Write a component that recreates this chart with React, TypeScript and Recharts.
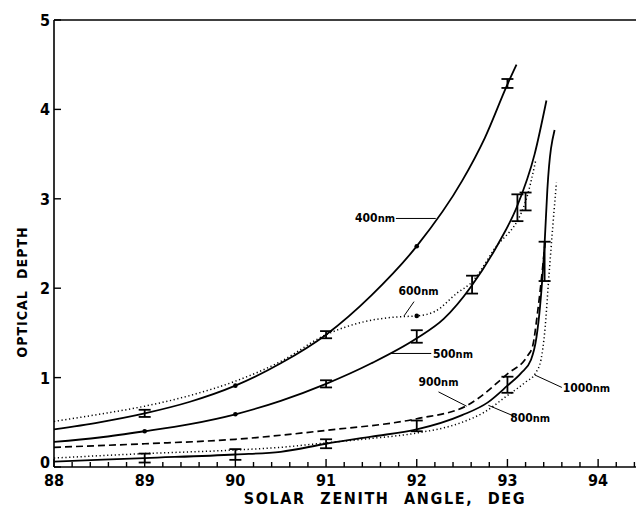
import React from "react";
import {
  ComposedChart,
  Line,
  Scatter,
  ErrorBar,
  XAxis,
  YAxis,
  ReferenceLine,
  ReferenceDot,
} from "recharts";

// ---------- data ----------
const nm400 = [
  { x: 88, y: 0.42 }, { x: 88.5, y: 0.5 }, { x: 89, y: 0.6 }, { x: 89.5, y: 0.73 },
  { x: 90, y: 0.91 }, { x: 90.5, y: 1.16 }, { x: 91, y: 1.48 }, { x: 91.5, y: 1.92 },
  { x: 92, y: 2.47 }, { x: 92.5, y: 3.2 }, { x: 92.75, y: 3.68 }, { x: 93, y: 4.28 },
  { x: 93.1, y: 4.5 },
];
const nm500 = [
  { x: 88, y: 0.28 }, { x: 88.5, y: 0.33 }, { x: 89, y: 0.4 }, { x: 89.5, y: 0.48 },
  { x: 90, y: 0.59 }, { x: 90.5, y: 0.74 }, { x: 91, y: 0.93 }, { x: 91.5, y: 1.16 },
  { x: 92, y: 1.44 }, { x: 92.3, y: 1.66 }, { x: 92.6, y: 2.02 }, { x: 92.9, y: 2.5 },
  { x: 93.1, y: 2.9 }, { x: 93.3, y: 3.5 }, { x: 93.43, y: 4.1 },
];
const nm600 = [
  { x: 88, y: 0.51 }, { x: 88.5, y: 0.59 }, { x: 89, y: 0.68 }, { x: 89.5, y: 0.8 },
  { x: 90, y: 0.96 }, { x: 90.5, y: 1.18 }, { x: 91, y: 1.48 }, { x: 91.4, y: 1.62 },
  { x: 91.8, y: 1.68 }, { x: 92, y: 1.69 }, { x: 92.2, y: 1.74 }, { x: 92.45, y: 1.95 },
  { x: 92.6, y: 2.06 }, { x: 92.85, y: 2.43 }, { x: 93.2, y: 2.97 }, { x: 93.31, y: 3.42 },
];
const nm800 = [
  { x: 88, y: 0.06 }, { x: 89, y: 0.1 }, { x: 90, y: 0.14 }, { x: 90.5, y: 0.17 },
  { x: 91, y: 0.26 }, { x: 91.5, y: 0.34 }, { x: 92, y: 0.42 }, { x: 92.5, y: 0.58 },
  { x: 92.78, y: 0.72 }, { x: 93, y: 0.91 }, { x: 93.15, y: 1.05 }, { x: 93.26, y: 1.2 },
  { x: 93.32, y: 1.45 }, { x: 93.36, y: 1.8 }, { x: 93.41, y: 2.5 }, { x: 93.44, y: 3.1 },
  { x: 93.52, y: 3.77 },
];
const nm900 = [
  { x: 88, y: 0.22 }, { x: 89, y: 0.26 }, { x: 90, y: 0.31 }, { x: 91, y: 0.41 },
  { x: 92, y: 0.54 }, { x: 92.54, y: 0.68 }, { x: 93.01, y: 1.05 }, { x: 93.22, y: 1.24 },
  { x: 93.28, y: 1.36 }, { x: 93.33, y: 1.71 }, { x: 93.42, y: 2.55 },
];
const nm1000 = [
  { x: 88, y: 0.1 }, { x: 89, y: 0.15 }, { x: 90, y: 0.19 }, { x: 90.5, y: 0.22 },
  { x: 91, y: 0.27 }, { x: 91.5, y: 0.32 }, { x: 92, y: 0.38 }, { x: 92.5, y: 0.5 },
  { x: 92.74, y: 0.61 }, { x: 93, y: 0.8 }, { x: 93.2, y: 0.95 }, { x: 93.31, y: 1.05 },
  { x: 93.37, y: 1.2 }, { x: 93.41, y: 1.5 }, { x: 93.46, y: 2.17 }, { x: 93.5, y: 2.69 },
  { x: 93.54, y: 3.18 },
];

// measured points with error bars
const errorPoints = [
  { x: 89, y: 0.6, e: 0.04 }, { x: 91, y: 1.48, e: 0.04 }, { x: 93, y: 4.29, e: 0.05 },
  { x: 91, y: 0.93, e: 0.04 }, { x: 92, y: 1.46, e: 0.07 }, { x: 93.11, y: 2.9, e: 0.15 },
  { x: 92.61, y: 2.04, e: 0.1 }, { x: 93.2, y: 2.97, e: 0.1 },
  { x: 89, y: 0.1, e: 0.05 }, { x: 90, y: 0.14, e: 0.06 }, { x: 91, y: 0.26, e: 0.05 },
  { x: 92, y: 0.46, e: 0.06 }, { x: 93, y: 0.92, e: 0.09 }, { x: 93.41, y: 2.3, e: 0.22 },
];
// measured points drawn as dots
const dotPoints = [
  { x: 90, y: 0.91 }, { x: 92, y: 2.47 }, { x: 89, y: 0.4 }, { x: 90, y: 0.59 },
  { x: 92, y: 1.69 },
];

// annotations: label positions and leader segments (data coordinates)
const labels = [
  { num: "400", x: 91.54, y: 2.78 },
  { num: "600", x: 92.02, y: 1.97 },
  { num: "500", x: 92.4, y: 1.26 },
  { num: "900", x: 92.24, y: 0.95 },
  { num: "800", x: 93.25, y: 0.55 },
  { num: "1000", x: 93.87, y: 0.88 },
];
const leaders = [
  [{ x: 91.77, y: 2.78 }, { x: 92.21, y: 2.78 }],
  [{ x: 91.97, y: 1.85 }, { x: 91.86, y: 1.69 }],
  [{ x: 91.72, y: 1.27 }, { x: 92.16, y: 1.27 }],
  [{ x: 92.24, y: 0.84 }, { x: 92.55, y: 0.68 }],
  [{ x: 92.79, y: 0.69 }, { x: 93.07, y: 0.57 }],
  [{ x: 93.3, y: 1.03 }, { x: 93.6, y: 0.89 }],
];

const X_TICKS: number[] = [];
for (let i = 0; i <= 32; i++) X_TICKS.push(Math.round((88 + i * 0.2) * 10) / 10);
const Y_TICKS = [0, 1, 2, 3, 4, 5];

const X_TITLE = "SOLAR ZENITH ANGLE, DEG";
const Y_TITLE = "OPTICAL DEPTH";

// ---------- styling ----------
const FONT = "'Liberation Sans Narrow', 'DejaVu Sans Condensed', 'Liberation Sans', sans-serif";
const W = 642;
const H = 501;
const M = { top: 11, right: 1, bottom: 41, left: 45 };

const isMajor = (v: number) => Math.abs(v - Math.round(v)) < 1e-6;

const BottomTick = (p: any) => {
  const v = p.payload.value;
  const major = isMajor(v);
  return (
    <g>
      <line x1={p.x} y1={p.y} x2={p.x} y2={p.y - (major ? 8 : 5)} stroke="#000" strokeWidth={1.4} />
      {major && (
        <text x={p.x} y={p.y + 19} textAnchor="middle" fontFamily={FONT} fontWeight="bold" fontSize={16} fill="#000">
          {v}
        </text>
      )}
    </g>
  );
};
const TopTick = (p: any) => {
  const v = p.payload.value;
  const major = isMajor(v);
  return <line x1={p.x} y1={p.y} x2={p.x} y2={p.y + (major ? 8 : 5)} stroke="#000" strokeWidth={1.4} />;
};
const LeftTick = (p: any) => {
  const v = p.payload.value;
  return (
    <g>
      <line x1={p.x} y1={p.y} x2={p.x + 7} y2={p.y} stroke="#000" strokeWidth={1.4} />
      <text x={p.x - 4} y={p.y + (v === 0 ? 1 : 6)} textAnchor="end" fontFamily={FONT} fontWeight="bold" fontSize={16} fill="#000">
        {v}
      </text>
    </g>
  );
};
const RightTick = (p: any) => (
  <line x1={p.x} y1={p.y} x2={p.x - 7} y2={p.y} stroke="#000" strokeWidth={1.4} />
);

const NoShape = () => <g />;
const DotShape = (p: any) => <circle cx={p.cx} cy={p.cy} r={2.3} fill="#000" />;

const LabelShape = (num: string) => (p: any) => (
  <text x={p.cx} y={p.cy + 4} textAnchor="middle" fontFamily={FONT} fontWeight="bold" fill="#000">
    <tspan fontSize={12}>{num}</tspan>
    <tspan fontSize={11}>nm</tspan>
  </text>
);

export default function App() {
  return (
    <div style={{ width: 636, height: 501, overflow: "hidden", position: "relative" }}>
      <ComposedChart width={W} height={H} margin={M}>
        <XAxis
          xAxisId={0}
          dataKey="x"
          type="number"
          domain={[88, 94.55]}
          ticks={X_TICKS}
          interval={0}
          height={1}
          tickSize={0}
          tickMargin={0}
          tickLine={false}
          axisLine={{ stroke: "#000", strokeWidth: 1.6 }}
          tick={<BottomTick />}
          allowDataOverflow
        />
        <XAxis
          xAxisId="top"
          orientation="top"
          type="number"
          domain={[88, 94.55]}
          ticks={X_TICKS}
          interval={0}
          height={1}
          tickSize={0}
          tickMargin={0}
          tickLine={false}
          axisLine={{ stroke: "#000", strokeWidth: 1.4 }}
          tick={<TopTick />}
          allowDataOverflow
        />
        <YAxis
          yAxisId={0}
          type="number"
          domain={[0, 5]}
          ticks={Y_TICKS}
          interval={0}
          width={1}
          tickSize={0}
          tickMargin={0}
          tickLine={false}
          axisLine={{ stroke: "#000", strokeWidth: 1.6 }}
          tick={<LeftTick />}
          allowDataOverflow
        />
        <YAxis
          yAxisId="right"
          orientation="right"
          type="number"
          domain={[0, 5]}
          ticks={Y_TICKS}
          interval={0}
          width={1}
          tickSize={0}
          tickMargin={0}
          tickLine={false}
          axisLine={{ stroke: "#000", strokeWidth: 1.4 }}
          tick={<RightTick />}
        />

        <Line data={nm600} dataKey="y" type="monotone" stroke="#000" strokeWidth={1.5} strokeDasharray="1.2 2.6" dot={false} isAnimationActive={false} />
        <Line data={nm1000} dataKey="y" type="monotone" stroke="#000" strokeWidth={1.5} strokeDasharray="1.2 2.6" dot={false} isAnimationActive={false} />
        <Line data={nm900} dataKey="y" type="monotone" stroke="#000" strokeWidth={1.7} strokeDasharray="7 4" dot={false} isAnimationActive={false} />
        <Line data={nm400} dataKey="y" type="monotone" stroke="#000" strokeWidth={1.8} dot={false} isAnimationActive={false} />
        <Line data={nm500} dataKey="y" type="monotone" stroke="#000" strokeWidth={1.8} dot={false} isAnimationActive={false} />
        <Line data={nm800} dataKey="y" type="monotone" stroke="#000" strokeWidth={1.8} dot={false} isAnimationActive={false} />

        <Scatter data={errorPoints} dataKey="y" shape={<NoShape />} isAnimationActive={false}>
          <ErrorBar dataKey="e" direction="y" width={6} stroke="#000" strokeWidth={1.8} isAnimationActive={false} />
        </Scatter>
        <Scatter data={dotPoints} dataKey="y" shape={<DotShape />} isAnimationActive={false} />

        {leaders.map((seg, i) => (
          <ReferenceLine key={"l" + i} segment={seg} stroke="#000" strokeWidth={1} ifOverflow="visible" />
        ))}
        {labels.map((l) => (
          <ReferenceDot key={l.num} x={l.x} y={l.y} r={0} ifOverflow="visible" shape={LabelShape(l.num)} />
        ))}

        <text
          x={377}
          y={H - 5}
          textAnchor="middle"
          fontFamily={FONT}
          fontWeight="bold"
          fontSize={16}
          letterSpacing={1.6}
          wordSpacing={8}
          fill="#000"
        >
          {X_TITLE}
        </text>
        <text
          x={14}
          y={284}
          transform="rotate(-90 14 284)"
          textAnchor="middle"
          dominantBaseline="central"
          fontFamily={FONT}
          fontWeight="bold"
          fontSize={14}
          letterSpacing={1}
          wordSpacing={6}
          fill="#000"
        >
          {Y_TITLE}
        </text>
      </ComposedChart>
    </div>
  );
}
